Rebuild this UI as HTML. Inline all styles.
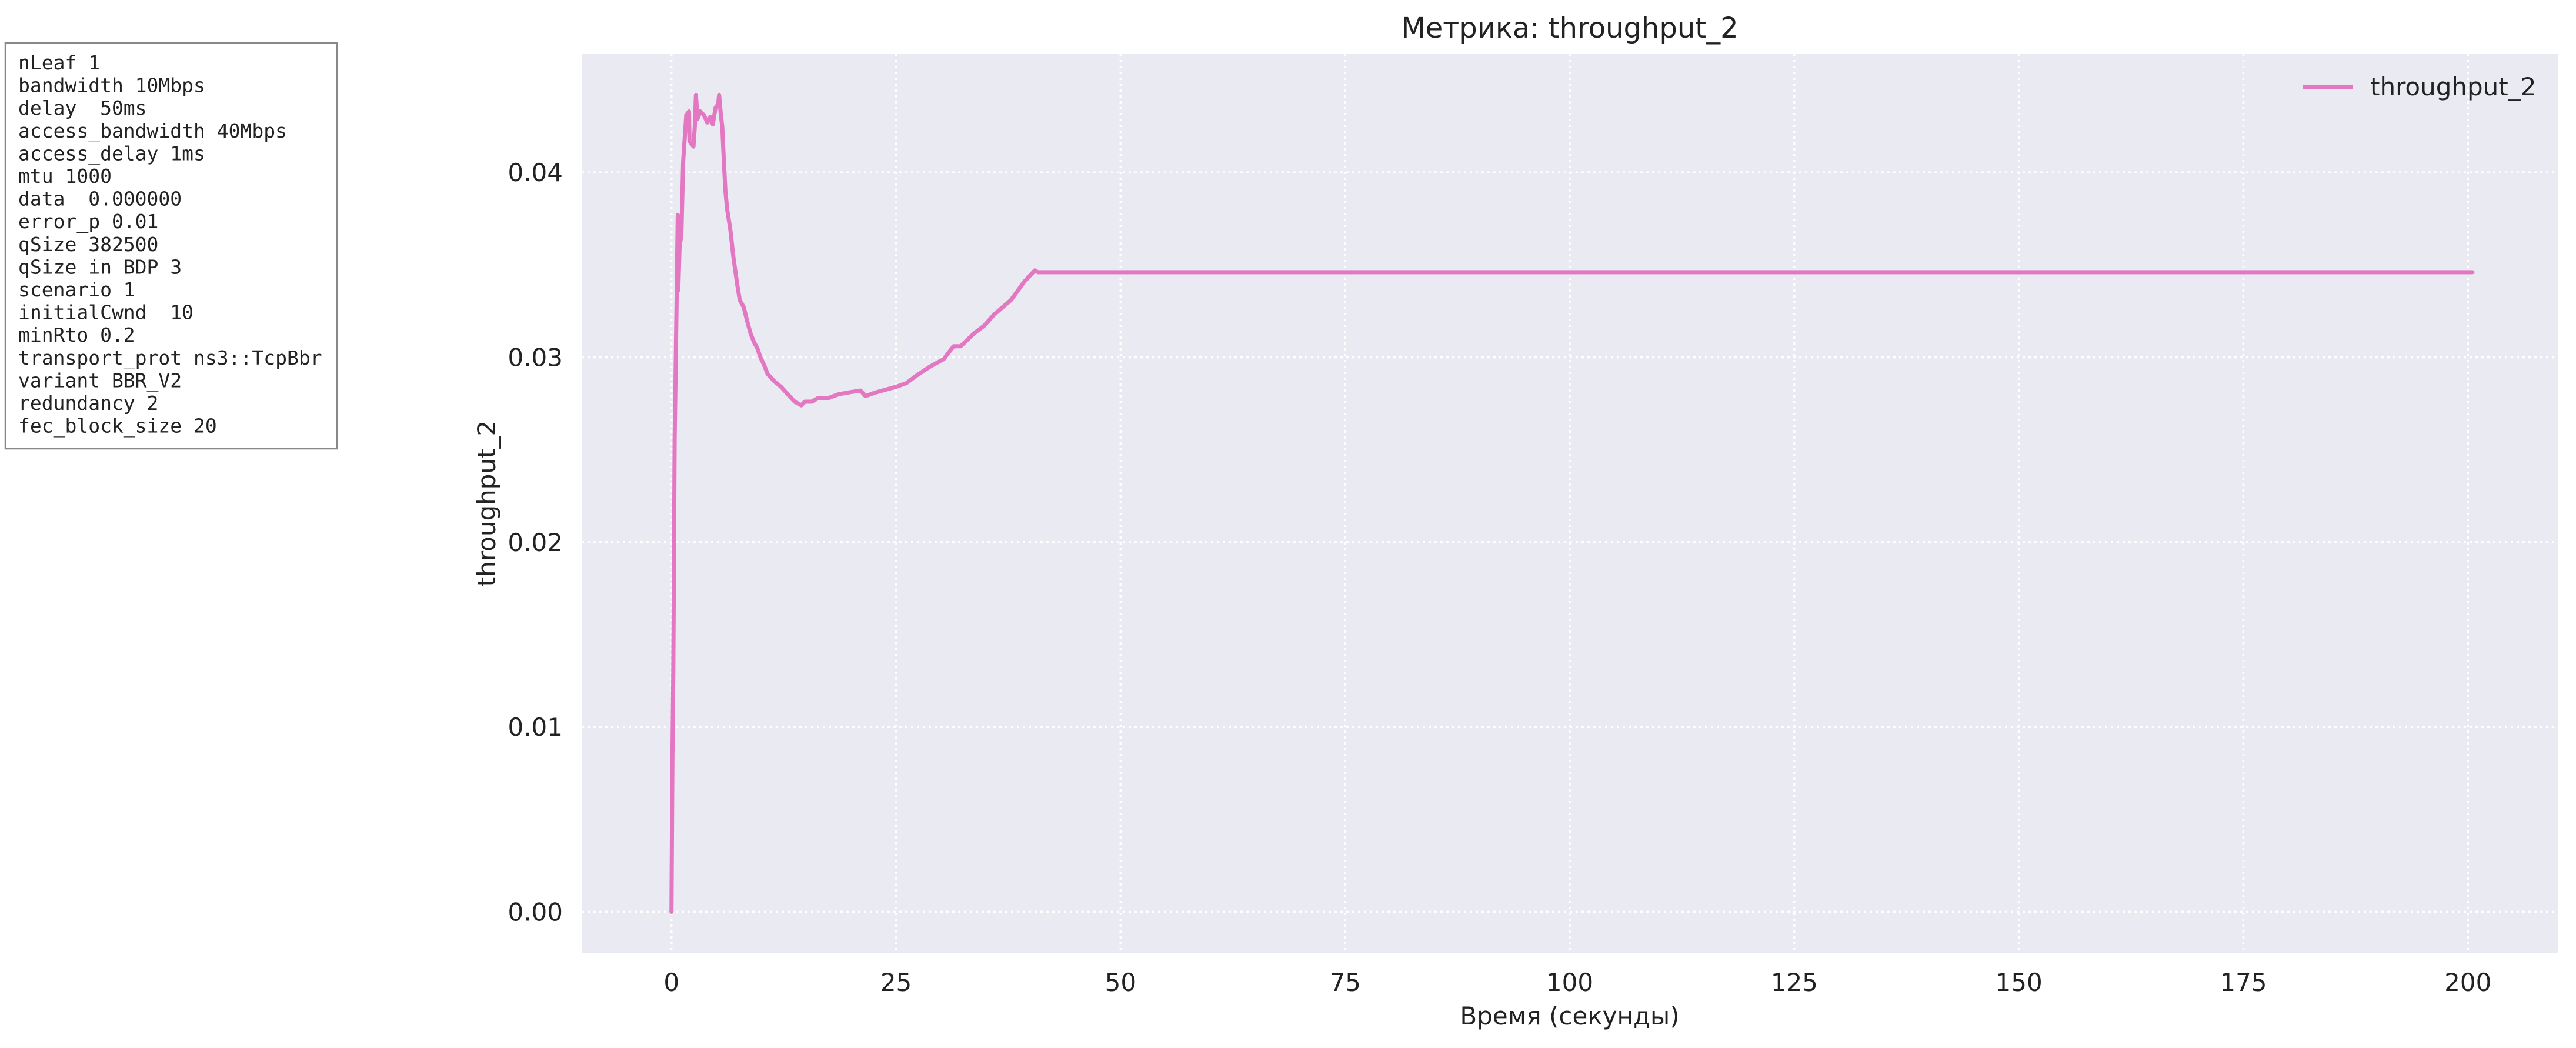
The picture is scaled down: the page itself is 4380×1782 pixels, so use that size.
<!DOCTYPE html>
<html><head><meta charset="utf-8"><style>
html,body{margin:0;padding:0;background:#fff;}
svg{display:block;}
</style></head><body>
<svg id="chart" width="4380" height="1782" viewBox="0 0 4380 1782" xmlns="http://www.w3.org/2000/svg">
<rect x="0" y="0" width="4380" height="1782" fill="#fff"/>
<g>
<rect x="9" y="73" width="564" height="690" fill="#fff" stroke="#888" stroke-width="2.5"/>
<text id="params" font-family="'DejaVu Sans Mono','Liberation Mono',monospace" font-size="33" fill="#222"></text>
</g>
<rect id="plotbg" x="989" y="92" width="3360" height="1528" fill="#eaeaf2"/>
<g id="grid"></g>
<g id="ticks"></g>
<path id="line" fill="none" stroke="#e377c2" stroke-width="7" stroke-linejoin="round" stroke-linecap="round"/>
<text x="2669" y="64" text-anchor="middle" font-family="'DejaVu Sans','Liberation Sans',sans-serif" font-size="48" fill="#222">Метрика: throughput_2</text>
<text x="2669" y="1742" text-anchor="middle" font-family="'DejaVu Sans','Liberation Sans',sans-serif" font-size="42" fill="#222">Время (секунды)</text>
<text x="0" y="0" transform="translate(842,856) rotate(-90)" text-anchor="middle" font-family="'DejaVu Sans','Liberation Sans',sans-serif" font-size="42" fill="#222">throughput_2</text>
<g>
<line x1="3916" y1="148" x2="4000" y2="148" stroke="#e377c2" stroke-width="7"/>
<text x="4030" y="162" font-family="'DejaVu Sans','Liberation Sans',sans-serif" font-size="42" fill="#222">throughput_2</text>
</g>
</svg>
<script>
const paramLines = ["nLeaf 1","bandwidth 10Mbps","delay  50ms","access_bandwidth 40Mbps","access_delay 1ms","mtu 1000","data  0.000000","error_p 0.01","qSize 382500","qSize in BDP 3","scenario 1","initialCwnd  10","minRto 0.2","transport_prot ns3::TcpBbr","variant BBR_V2","redundancy 2","fec_block_size 20"];
const xTicks = [0,25,50,75,100,125,150,175,200];
const yTicks = [0,0.01,0.02,0.03,0.04];
const yTickLabels = ["0.00","0.01","0.02","0.03","0.04"];
const times = [0,0.1,0.2,0.3,0.35,0.45,0.7,0.75,0.9,1.1,1.3,1.45,1.65,1.95,2.0,2.45,2.6,2.72,2.9,3.2,3.6,4.0,4.3,4.6,4.9,5.2,5.3,5.5,5.65,5.85,6.0,6.2,6.55,6.9,7.3,7.6,8.05,8.4,8.8,9.2,9.55,9.9,10.3,10.7,11.45,12.2,12.95,13.7,14.45,14.85,15.6,16.35,17.5,18.6,19.75,21.05,21.6,22.75,25.0,26.15,27.25,28.8,30.3,31.4,32.2,33.7,34.8,35.9,37.8,39.3,40.45,40.8,200.5];
const values = [0,0.0083,0.013,0.021,0.0256,0.0288,0.0377,0.0336,0.0360,0.0366,0.0406,0.0417,0.0431,0.0433,0.0417,0.0414,0.0425,0.0442,0.0429,0.0433,0.0431,0.0427,0.0430,0.0426,0.0435,0.0437,0.0442,0.0431,0.0425,0.0404,0.0390,0.0380,0.0369,0.0354,0.0340,0.0331,0.0327,0.0320,0.0313,0.0308,0.0305,0.0300,0.0296,0.0291,0.0287,0.0284,0.0280,0.0276,0.0274,0.0276,0.0276,0.0278,0.0278,0.0280,0.0281,0.0282,0.0279,0.0281,0.0284,0.0286,0.0290,0.0295,0.0299,0.0306,0.0306,0.0313,0.0317,0.0323,0.0331,0.0341,0.0347,0.0346,0.0346];

const NS='http://www.w3.org/2000/svg';
const PX0=989,PX1=4349,PY0=92,PY1=1620;
const XMIN=-10,XMAX=210,YMIN=-0.00221,YMAX=0.0464;
function xs(v){return PX0+(v-XMIN)/(XMAX-XMIN)*(PX1-PX0);}
function ys(v){return PY1-(v-YMIN)/(YMAX-YMIN)*(PY1-PY0);}
function mk(tag,attrs,parent){const e=document.createElementNS(NS,tag);for(const k in attrs)e.setAttribute(k,attrs[k]);parent.appendChild(e);return e;}

const pt=document.getElementById('params');
paramLines.forEach((s,i)=>{
  const t=mk('tspan',{x:31,y:118+i*38.6},pt);
  
  
  t.textContent=s.replace(/ /g,'\u00a0');
});

const grid=document.getElementById('grid'), ticks=document.getElementById('ticks');
const font="'DejaVu Sans','Liberation Sans',sans-serif";
xTicks.forEach(v=>{
  const x=xs(v);
  const g=mk('line',{x1:x,x2:x,y1:PY0,y2:PY1,stroke:'#fff','stroke-width':3.5,'stroke-dasharray':'4,6'},grid);
  
  
  const t=mk('text',{x:x,y:1685,'text-anchor':'middle','font-family':font,'font-size':42,fill:'#222'},ticks);
  
  
  t.textContent=String(v);
});
yTicks.forEach((v,i)=>{
  const y=ys(v);
  const g=mk('line',{x1:PX0,x2:PX1,y1:y,y2:y,stroke:'#fff','stroke-width':3.5,'stroke-dasharray':'4,6'},grid);
  
  
  const t=mk('text',{x:957,y:y+15,'text-anchor':'end','font-family':font,'font-size':42,fill:'#222'},ticks);
  
  
  t.textContent=yTickLabels[i];
});
let d='';
times.forEach((t,i)=>{d+=(i?'L':'M')+xs(t).toFixed(1)+','+ys(values[i]).toFixed(1);});
document.getElementById('line').setAttribute('d',d);
</script>
</body></html>
